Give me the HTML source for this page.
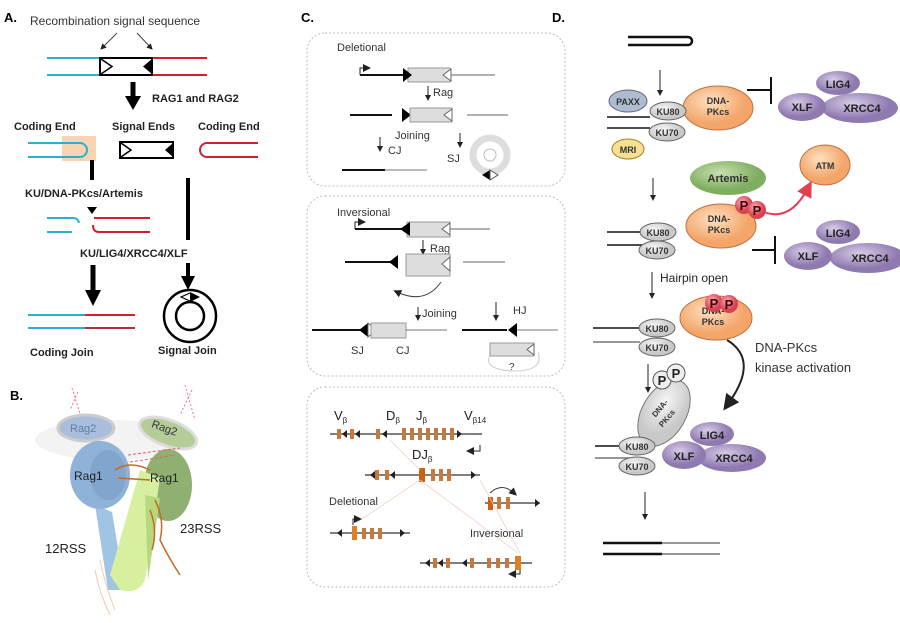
<!DOCTYPE html>
<html><head><meta charset="utf-8"><style>
html,body{margin:0;padding:0;background:#fff;}
svg{display:block;font-family:"Liberation Sans",Arial,sans-serif;}
</style></head><body>
<svg width="900" height="623" viewBox="0 0 900 623" xmlns="http://www.w3.org/2000/svg">
<defs>
<marker id="ah" markerWidth="6" markerHeight="6" refX="5" refY="3" orient="auto" markerUnits="userSpaceOnUse"><path d="M0,0 L6,3 L0,6 Z" fill="#222"/></marker>
<marker id="ah2" markerWidth="8" markerHeight="8" refX="4" refY="4" orient="auto"><path d="M0,0 L8,4 L0,8 Z" fill="#222"/></marker>
<marker id="ahr" markerWidth="8" markerHeight="8" refX="4" refY="4" orient="auto"><path d="M0,0 L8,4 L0,8 Z" fill="#e04050"/></marker>
<radialGradient id="og" cx="40%" cy="35%"><stop offset="0" stop-color="#fde0c0"/><stop offset="1" stop-color="#f3a56a"/></radialGradient>
<radialGradient id="pg" cx="40%" cy="35%"><stop offset="0" stop-color="#d8cce6"/><stop offset="1" stop-color="#8e79b0"/></radialGradient>
<radialGradient id="gg" cx="40%" cy="35%"><stop offset="0" stop-color="#c8e0b0"/><stop offset="1" stop-color="#7fae60"/></radialGradient>
<radialGradient id="kg" cx="40%" cy="35%"><stop offset="0" stop-color="#f6f6f6"/><stop offset="1" stop-color="#c8c8c8"/></radialGradient>
<radialGradient id="rg" cx="40%" cy="35%"><stop offset="0" stop-color="#f7b0b8"/><stop offset="1" stop-color="#d94050"/></radialGradient>
</defs>

<!-- ===== Panel A ===== -->
<text x="4" y="22" font-size="13" font-weight="bold">A.</text>
<text x="30" y="25" font-size="12" fill="#333">Recombination signal sequence</text>
<line x1="117" y1="33" x2="101" y2="49" stroke="#444" marker-end="url(#ah)"/>
<line x1="137" y1="33" x2="152" y2="49" stroke="#444" marker-end="url(#ah)"/>
<g stroke-width="2">
<line x1="47" y1="58" x2="100" y2="58" stroke="#2ab0d0"/><line x1="47" y1="75" x2="100" y2="75" stroke="#2ab0d0"/>
<line x1="152" y1="58" x2="207" y2="58" stroke="#d02030"/><line x1="152" y1="75" x2="207" y2="75" stroke="#d02030"/>
</g>
<rect x="100" y="58" width="52" height="17" fill="#fff" stroke="#000" stroke-width="2"/>
<path d="M101,59 L112,66.5 L101,74" fill="none" stroke="#000" stroke-width="1.5"/>
<path d="M152,59 L143,66.5 L152,74 Z" fill="#000"/>
<line x1="133" y1="82" x2="133" y2="98" stroke="#000" stroke-width="5"/>
<path d="M125,96 L141,96 L133,110 Z" fill="#000"/>
<text x="152" y="102" font-size="11" font-weight="bold" fill="#222">RAG1 and RAG2</text>
<text x="14" y="130" font-size="11" font-weight="bold" fill="#222">Coding End</text>
<text x="112" y="130" font-size="11" font-weight="bold" fill="#222">Signal Ends</text>
<text x="198" y="130" font-size="11" font-weight="bold" fill="#222">Coding End</text>
<rect x="62" y="136" width="34" height="25" fill="#f7c9a0" opacity="0.8"/>
<path d="M28,143 L80,143 A7,7 0 0 1 80,157 L28,157" fill="none" stroke="#2ab0d0" stroke-width="2"/>
<rect x="120" y="142" width="53" height="16" fill="#fff" stroke="#000" stroke-width="2"/>
<path d="M121,143 L131,150 L121,157" fill="none" stroke="#000" stroke-width="1.5"/>
<path d="M173,143 L165,150 L173,157 Z" fill="#000"/>
<path d="M258,143 L207,143 A7,7 0 0 0 207,157 L258,157" fill="none" stroke="#d02030" stroke-width="2"/>
<line x1="92" y1="160" x2="92" y2="180" stroke="#000" stroke-width="4"/>
<text x="25" y="197" font-size="11" font-weight="bold" fill="#222">KU/DNA-PKcs/Artemis</text>
<path d="M87,207 L97,207 L92,214 Z" fill="#000"/>
<path d="M47,218 L73,218 Q78,218 79,223" fill="none" stroke="#2ab0d0" stroke-width="2"/>
<line x1="47" y1="232" x2="72" y2="232" stroke="#2ab0d0" stroke-width="2"/>
<line x1="94" y1="218" x2="150" y2="218" stroke="#d02030" stroke-width="2"/>
<path d="M93,225 Q93,232 99,232 L150,232" fill="none" stroke="#d02030" stroke-width="2"/>
<line x1="188" y1="178" x2="188" y2="240" stroke="#000" stroke-width="4"/>
<text x="80" y="257" font-size="11" font-weight="bold" fill="#222">KU/LIG4/XRCC4/XLF</text>
<line x1="188" y1="263" x2="188" y2="278" stroke="#000" stroke-width="4"/>
<path d="M181,276 L195,276 L188,290 Z" fill="#000"/>
<line x1="93" y1="265" x2="93" y2="292" stroke="#000" stroke-width="5"/>
<path d="M85,290 L101,290 L93,306 Z" fill="#000"/>
<line x1="28" y1="315" x2="85" y2="315" stroke="#2ab0d0" stroke-width="2"/><line x1="85" y1="315" x2="135" y2="315" stroke="#d02030" stroke-width="2"/>
<line x1="28" y1="328" x2="85" y2="328" stroke="#2ab0d0" stroke-width="2"/><line x1="85" y1="328" x2="135" y2="328" stroke="#b03040" stroke-width="2"/>
<circle cx="190" cy="316" r="26" fill="none" stroke="#000" stroke-width="2.5"/>
<circle cx="190" cy="316" r="14" fill="none" stroke="#000" stroke-width="2.5"/>
<path d="M190,292 L200,297 L190,302 Z" fill="#000"/>
<path d="M190,293 L181,297 L190,301" fill="none" stroke="#000" stroke-width="1.2"/>
<text x="30" y="356" font-size="11" font-weight="bold" fill="#222">Coding Join</text>
<text x="158" y="354" font-size="11" font-weight="bold" fill="#222">Signal Join</text>

<!-- ===== Panel B ===== -->
<text x="10" y="400" font-size="13" font-weight="bold">B.</text>
<ellipse cx="110" cy="440" rx="75" ry="20" fill="#eee" opacity="0.7"/>
<path d="M72,388 L82,420 M78,392 L70,410 M185,385 L195,420 M192,390 L180,415" stroke="#f07090" stroke-dasharray="2,2" fill="none"/>
<ellipse cx="86" cy="428" rx="28" ry="13" fill="#a8bedc" stroke="#ccc" stroke-width="3"/>
<text x="70" y="432" font-size="11" fill="#6080a8">Rag2</text>
<ellipse cx="168" cy="433" rx="30" ry="13" transform="rotate(20 168 433)" fill="#b4cc98" stroke="#ddd" stroke-width="3"/>
<text x="150" y="432" font-size="11" fill="#333" transform="rotate(20 165 432)">Rag2</text>
<path d="M95,505 L112,512 L125,590 L108,590 Z" fill="#9fc4e4"/>
<ellipse cx="100" cy="475" rx="30" ry="34" fill="#8fb2d8"/>
<ellipse cx="108" cy="475" rx="18" ry="25" fill="#7aa0c8" opacity="0.7"/>
<text x="74" y="480" font-size="12" fill="#222">Rag1</text>
<ellipse cx="168" cy="485" rx="24" ry="36" fill="#8fb070"/>
<path d="M140,470 L160,478 L145,580 Q138,595 120,590 L110,575 Z" fill="#d7f0a0"/>
<path d="M145,495 L160,498 L148,580" fill="#b8d880"/>
<text x="150" y="482" font-size="12" fill="#222">Rag1</text>
<path d="M115,470 Q130,460 150,470 M118,478 L150,480 M155,500 Q165,520 160,540 Q170,560 180,575 M150,510 Q158,530 152,550" stroke="#c86a20" stroke-width="1.5" fill="none"/>
<path d="M128,455 L180,448 M130,462 L175,455" stroke="#e06060" stroke-dasharray="3,2" fill="none"/>
<path d="M100,560 Q105,585 115,610 M95,570 Q100,595 110,615" stroke="#f0a080" fill="none" opacity="0.6"/>
<text x="180" y="533" font-size="13" fill="#222">23RSS</text>
<text x="45" y="553" font-size="13" fill="#222">12RSS</text>

<!-- ===== Panel C ===== -->
<text x="301" y="22" font-size="13" font-weight="bold">C.</text>
<g fill="none" stroke="#bbb" stroke-dasharray="2,2">
<rect x="307" y="33" width="258" height="153" rx="18"/>
<rect x="307" y="196" width="258" height="180" rx="18"/>
<rect x="307" y="387" width="258" height="200" rx="18"/>
</g>
<text x="337" y="51" font-size="11" fill="#333">Deletional</text>
<path d="M360,75 L360,68 L367,68" stroke="#222" fill="none" marker-end="url(#ah2)"/>
<line x1="360" y1="75" x2="405" y2="75" stroke="#111" stroke-width="2"/>
<rect x="408" y="68" width="42" height="14" fill="#ddd" stroke="#999"/>
<path d="M403,68 L412,75 L403,82 Z" fill="#000"/>
<path d="M451,69 L443,75 L451,81 Z" fill="#fff" stroke="#666"/>
<line x1="451" y1="75" x2="495" y2="75" stroke="#666"/>
<line x1="428" y1="86" x2="428" y2="100" stroke="#222" marker-end="url(#ah)"/>
<text x="433" y="96" font-size="11" fill="#333">Rag</text>
<line x1="350" y1="115" x2="392" y2="115" stroke="#111" stroke-width="2"/>
<path d="M402,108 L411,115 L402,122 Z" fill="#000"/>
<rect x="410" y="108" width="42" height="14" fill="#ddd" stroke="#999"/>
<path d="M452,109 L444,115 L452,121 Z" fill="#fff" stroke="#666"/>
<line x1="467" y1="115" x2="508" y2="115" stroke="#666"/>
<text x="395" y="139" font-size="11" fill="#333">Joining</text>
<line x1="380" y1="137" x2="380" y2="151" stroke="#222" marker-end="url(#ah)"/>
<line x1="460" y1="133" x2="460" y2="147" stroke="#222" marker-end="url(#ah)"/>
<text x="388" y="154" font-size="11" fill="#333">CJ</text>
<text x="447" y="162" font-size="11" fill="#333">SJ</text>
<circle cx="490" cy="155" r="17" fill="none" stroke="#ddd" stroke-width="7"/>
<circle cx="490" cy="155" r="6" fill="#fff" stroke="#bbb"/>
<path d="M482,175 L490,170 L490,180 Z" fill="#000"/><path d="M498,175 L490,170 L490,180 Z" fill="#fff" stroke="#555"/>
<line x1="342" y1="170" x2="385" y2="170" stroke="#111" stroke-width="2"/>
<line x1="385" y1="170" x2="427" y2="170" stroke="#777"/>

<text x="337" y="216" font-size="11" fill="#333">Inversional</text>
<path d="M355,229 L355,222 L362,222" stroke="#222" fill="none" marker-end="url(#ah2)"/>
<line x1="355" y1="229" x2="402" y2="229" stroke="#111" stroke-width="2"/>
<rect x="407" y="222" width="43" height="15" fill="#ddd" stroke="#999"/>
<path d="M410,222 L400,229 L410,236 Z" fill="#000"/>
<path d="M450,223 L442,229 L450,235 Z" fill="#fff" stroke="#666"/>
<line x1="450" y1="229" x2="490" y2="229" stroke="#666"/>
<line x1="423" y1="240" x2="423" y2="254" stroke="#222" marker-end="url(#ah)"/>
<text x="430" y="252" font-size="11" fill="#333">Rag</text>
<line x1="345" y1="262" x2="393" y2="262" stroke="#111" stroke-width="2"/>
<path d="M398,255 L389,262 L398,269 Z" fill="#000"/>
<rect x="406" y="254" width="44" height="22" fill="#ddd" stroke="#999"/>
<path d="M450,257 L442,264 L450,271 Z" fill="#fff" stroke="#666"/>
<line x1="463" y1="262" x2="505" y2="262" stroke="#666"/>
<path d="M441,282 Q425,305 397,292" fill="none" stroke="#444" marker-end="url(#ah2)"/>
<line x1="418" y1="307" x2="418" y2="320" stroke="#222" marker-end="url(#ah)"/>
<text x="422" y="317" font-size="11" fill="#333">Joining</text>
<line x1="496" y1="302" x2="496" y2="320" stroke="#222" marker-end="url(#ah)"/>
<text x="513" y="314" font-size="11" fill="#333">HJ</text>
<line x1="312" y1="330" x2="362" y2="330" stroke="#111" stroke-width="2"/>
<path d="M368,323 L359,330 L368,337 Z" fill="#000"/>
<path d="M368,323 L376,330 L368,337 Z" fill="#fff" stroke="#666"/>
<rect x="371" y="323" width="35" height="15" fill="#ddd" stroke="#999"/>
<line x1="406" y1="330" x2="447" y2="330" stroke="#777"/>
<text x="351" y="354" font-size="11" fill="#333">SJ</text>
<text x="396" y="354" font-size="11" fill="#333">CJ</text>
<line x1="462" y1="330" x2="507" y2="330" stroke="#111" stroke-width="2"/>
<path d="M517,323 L508,330 L517,337 Z" fill="#000"/>
<line x1="517" y1="330" x2="558" y2="330" stroke="#777"/>
<path d="M492,352 Q480,368 510,371 Q545,372 538,352" fill="none" stroke="#ccc"/>
<rect x="490" y="343" width="44" height="13" fill="#ddd" stroke="#999"/>
<path d="M534,344 L527,349.5 L534,355 Z" fill="#fff" stroke="#666"/>
<text x="509" y="370" font-size="10" fill="#333">?</text>

<text x="334" y="420" font-size="13" fill="#222">V<tspan font-size="8" dy="3">β</tspan></text>
<text x="386" y="420" font-size="13" fill="#222">D<tspan font-size="8" dy="3">β</tspan></text>
<text x="416" y="420" font-size="13" fill="#222">J<tspan font-size="8" dy="3">β</tspan></text>
<text x="464" y="420" font-size="13" fill="#222">V<tspan font-size="8" dy="3">β14</tspan></text>
<g stroke="#333" stroke-width="1.2">
<line x1="330" y1="434" x2="482" y2="434"/>
<line x1="365" y1="475" x2="480" y2="475"/>
<line x1="330" y1="533" x2="410" y2="533"/>
<line x1="420" y1="563" x2="532" y2="563"/>
<line x1="485" y1="503" x2="540" y2="503"/>
</g>
<g fill="#c87838">
<rect x="337" y="429" width="4" height="10"/><rect x="350" y="429" width="4" height="10"/><rect x="376" y="429" width="4" height="10"/>
<rect x="402" y="428" width="4" height="12"/><rect x="410" y="428" width="4" height="12"/><rect x="418" y="428" width="4" height="12"/><rect x="426" y="428" width="4" height="12"/><rect x="434" y="428" width="4" height="12"/><rect x="442" y="428" width="4" height="12"/><rect x="450" y="428" width="4" height="12"/>
<rect x="375" y="470" width="4" height="10"/><rect x="385" y="470" width="4" height="10"/>
<rect x="419" y="468" width="6" height="14" fill="#d06010"/><rect x="431" y="469" width="4" height="12"/><rect x="439" y="469" width="4" height="12"/><rect x="447" y="469" width="4" height="12"/>
<rect x="352" y="526" width="5" height="14" fill="#e08020"/><rect x="362" y="528" width="4" height="11"/><rect x="370" y="528" width="4" height="11"/><rect x="378" y="528" width="4" height="11"/>
<rect x="433" y="558" width="4" height="10"/><rect x="446" y="558" width="4" height="10"/><rect x="470" y="558" width="4" height="10"/><rect x="487" y="558" width="4" height="10"/><rect x="496" y="558" width="4" height="10"/><rect x="505" y="558" width="4" height="10"/><rect x="515" y="556" width="6" height="14" fill="#e08020"/>
<rect x="488" y="497" width="5" height="13" fill="#d06010"/><rect x="497" y="497" width="4" height="12"/><rect x="506" y="497" width="4" height="12"/>
</g>
<g fill="#222">
<path d="M342,434 l5,-4 v8z"/><path d="M355,434 l5,-4 v8z"/><path d="M382,434 l5,-4 v8z"/><path d="M462,434 l-5,-4 v8z"/>
<path d="M370,475 l5,-4 v8z"/><path d="M390,475 l5,-4 v8z"/><path d="M476,475 l-5,-4 v8z"/>
<path d="M337,533 l5,-4 v8z"/><path d="M405,533 l-5,-4 v8z"/>
<path d="M425,563 l5,-4 v8z"/><path d="M438,563 l5,-4 v8z"/><path d="M462,563 l5,-4 v8z"/>
<path d="M540,503 l-5,-4 v8z"/>
</g>
<text x="412" y="459" font-size="13" fill="#222">DJ<tspan font-size="8" dy="3">β</tspan></text>
<path d="M480,445 L480,451 L470,451" fill="none" stroke="#222" marker-end="url(#ah2)"/>
<path d="M490,493 Q502,482 514,493" fill="none" stroke="#333" marker-end="url(#ah2)"/>
<g stroke="#f0d0c0" stroke-width="1" opacity="0.8">
<line x1="390" y1="440" x2="420" y2="470"/><line x1="420" y1="480" x2="356" y2="523"/><line x1="420" y1="480" x2="518" y2="553"/><line x1="480" y1="480" x2="520" y2="553"/>
</g>
<text x="329" y="505" font-size="11" fill="#333">Deletional</text>
<path d="M353,525 L353,519 L358,519" fill="none" stroke="#222" marker-end="url(#ah2)"/>
<text x="470" y="537" font-size="11" fill="#333">Inversional</text>
<path d="M520,570 L520,574 L512,574" fill="none" stroke="#222" marker-end="url(#ah2)"/>

<!-- ===== Panel D ===== -->
<text x="552" y="22" font-size="13" font-weight="bold">D.</text>
<path d="M628,37 L688,37 A4,4 0 0 1 688,45 L628,45" fill="none" stroke="#111" stroke-width="2.5"/>
<line x1="660" y1="70" x2="660" y2="95" stroke="#222" marker-end="url(#ah)"/>
<!-- complex 1 -->
<line x1="607" y1="117" x2="650" y2="117" stroke="#111" stroke-width="1.5"/>
<line x1="607" y1="128" x2="650" y2="128" stroke="#111" stroke-width="1.5"/>
<ellipse cx="718" cy="108" rx="35" ry="22" fill="url(#og)" stroke="#c07040"/>
<text x="718" y="104" font-size="9" font-weight="bold" text-anchor="middle" fill="#333">DNA-</text>
<text x="718" y="115" font-size="9" font-weight="bold" text-anchor="middle" fill="#333">PKcs</text>
<ellipse cx="628" cy="101" rx="19" ry="11" fill="#aebcd0" stroke="#667"/>
<text x="628" y="105" font-size="9" font-weight="bold" text-anchor="middle" fill="#333">PAXX</text>
<ellipse cx="668" cy="111" rx="18" ry="9" fill="url(#kg)" stroke="#666"/>
<text x="668" y="115" font-size="9" font-weight="bold" text-anchor="middle" fill="#333">KU80</text>
<ellipse cx="667" cy="132" rx="18" ry="9" fill="url(#kg)" stroke="#666"/>
<text x="667" y="136" font-size="9" font-weight="bold" text-anchor="middle" fill="#333">KU70</text>
<ellipse cx="628" cy="149" rx="16" ry="10" fill="#f7e090" stroke="#a08030"/>
<text x="628" y="153" font-size="9" font-weight="bold" text-anchor="middle" fill="#333">MRI</text>
<line x1="747" y1="90" x2="770" y2="90" stroke="#111" stroke-width="2"/>
<line x1="771" y1="77" x2="771" y2="104" stroke="#111" stroke-width="2"/>
<ellipse cx="838" cy="83" rx="22" ry="12" fill="url(#pg)"/>
<ellipse cx="860" cy="108" rx="38" ry="15" fill="url(#pg)"/>
<ellipse cx="802" cy="107" rx="24" ry="14" fill="url(#pg)"/>
<text x="838" y="88" font-size="11" font-weight="bold" text-anchor="middle" fill="#222">LIG4</text>
<text x="802" y="111" font-size="11" font-weight="bold" text-anchor="middle" fill="#222">XLF</text>
<text x="862" y="112" font-size="11" font-weight="bold" text-anchor="middle" fill="#222">XRCC4</text>
<line x1="653" y1="178" x2="653" y2="200" stroke="#222" marker-end="url(#ah)"/>
<!-- complex 2 -->
<ellipse cx="728" cy="178" rx="38" ry="17" fill="url(#gg)"/>
<text x="728" y="182" font-size="11" font-weight="bold" text-anchor="middle" fill="#333">Artemis</text>
<ellipse cx="825" cy="165" rx="25" ry="20" fill="url(#og)" stroke="#c07040"/>
<text x="825" y="169" font-size="9" font-weight="bold" text-anchor="middle" fill="#333">ATM</text>
<line x1="607" y1="232" x2="650" y2="232" stroke="#111" stroke-width="1.5"/>
<line x1="607" y1="245" x2="650" y2="245" stroke="#111" stroke-width="1.5"/>
<ellipse cx="721" cy="226" rx="35" ry="22" fill="url(#og)" stroke="#c07040"/>
<text x="719" y="222" font-size="9" font-weight="bold" text-anchor="middle" fill="#333">DNA-</text>
<text x="719" y="233" font-size="9" font-weight="bold" text-anchor="middle" fill="#333">PKcs</text>
<ellipse cx="658" cy="232" rx="18" ry="9" fill="url(#kg)" stroke="#666"/>
<text x="658" y="236" font-size="9" font-weight="bold" text-anchor="middle" fill="#333">KU80</text>
<ellipse cx="657" cy="250" rx="18" ry="9" fill="url(#kg)" stroke="#666"/>
<text x="657" y="254" font-size="9" font-weight="bold" text-anchor="middle" fill="#333">KU70</text>
<path d="M764,212 Q790,222 808,188" fill="none" stroke="#e04050" stroke-width="2" marker-end="url(#ahr)"/>
<circle cx="744" cy="205" r="9" fill="url(#rg)"/><circle cx="757" cy="210" r="9" fill="url(#rg)"/>
<text x="744" y="210" font-size="13" font-weight="bold" text-anchor="middle" fill="#400">P</text>
<text x="757" y="215" font-size="13" font-weight="bold" text-anchor="middle" fill="#400">P</text>
<line x1="752" y1="250" x2="774" y2="250" stroke="#111" stroke-width="2"/>
<line x1="775" y1="236" x2="775" y2="264" stroke="#111" stroke-width="2"/>
<ellipse cx="838" cy="232" rx="22" ry="12" fill="url(#pg)"/>
<ellipse cx="868" cy="258" rx="38" ry="15" fill="url(#pg)"/>
<ellipse cx="808" cy="256" rx="24" ry="14" fill="url(#pg)"/>
<text x="838" y="237" font-size="11" font-weight="bold" text-anchor="middle" fill="#222">LIG4</text>
<text x="808" y="260" font-size="11" font-weight="bold" text-anchor="middle" fill="#222">XLF</text>
<text x="870" y="262" font-size="11" font-weight="bold" text-anchor="middle" fill="#222">XRCC4</text>
<line x1="652" y1="272" x2="652" y2="298" stroke="#222" marker-end="url(#ah)"/>
<text x="660" y="282" font-size="12" fill="#222">Hairpin open</text>
<!-- complex 3 -->
<line x1="593" y1="328" x2="640" y2="328" stroke="#111" stroke-width="1.5"/>
<line x1="593" y1="342" x2="640" y2="342" stroke="#777" stroke-width="1.5"/>
<ellipse cx="716" cy="318" rx="36" ry="22" fill="url(#og)" stroke="#c07040"/>
<text x="713" y="314" font-size="9" font-weight="bold" text-anchor="middle" fill="#333">DNA-</text>
<text x="713" y="325" font-size="9" font-weight="bold" text-anchor="middle" fill="#333">PKcs</text>
<circle cx="714" cy="303" r="9" fill="url(#rg)"/><circle cx="729" cy="304" r="9" fill="url(#rg)"/>
<text x="714" y="308" font-size="13" font-weight="bold" text-anchor="middle" fill="#400">P</text>
<text x="729" y="309" font-size="13" font-weight="bold" text-anchor="middle" fill="#400">P</text>
<ellipse cx="657" cy="328" rx="18" ry="9" fill="url(#kg)" stroke="#666"/>
<text x="657" y="332" font-size="9" font-weight="bold" text-anchor="middle" fill="#333">KU80</text>
<ellipse cx="657" cy="347" rx="18" ry="9" fill="url(#kg)" stroke="#666"/>
<text x="657" y="351" font-size="9" font-weight="bold" text-anchor="middle" fill="#333">KU70</text>
<path d="M727,340 Q760,360 728,404" fill="none" stroke="#222" stroke-width="2" marker-end="url(#ah2)"/>
<text x="755" y="352" font-size="13" fill="#333">DNA-PKcs</text>
<text x="755" y="372" font-size="13" fill="#333">kinase activation</text>
<line x1="648" y1="364" x2="648" y2="392" stroke="#222" marker-end="url(#ah)"/>
<!-- complex 4 -->
<line x1="595" y1="446" x2="630" y2="446" stroke="#111" stroke-width="1.5"/>
<line x1="595" y1="458" x2="630" y2="458" stroke="#777" stroke-width="1.5"/>
<ellipse cx="664" cy="413" rx="22" ry="36" transform="rotate(30 664 413)" fill="url(#kg)" stroke="#777"/>
<text x="662" y="410" font-size="8" font-weight="bold" text-anchor="middle" fill="#333" transform="rotate(-50 662 410)">DNA-</text>
<text x="669" y="420" font-size="8" font-weight="bold" text-anchor="middle" fill="#333" transform="rotate(-50 669 420)">PKcs</text>
<circle cx="662" cy="380" r="9" fill="#eee" stroke="#555"/><circle cx="676" cy="373" r="9" fill="#eee" stroke="#555"/>
<text x="662" y="385" font-size="13" font-weight="bold" text-anchor="middle" fill="#222">P</text>
<text x="676" y="378" font-size="13" font-weight="bold" text-anchor="middle" fill="#222">P</text>
<ellipse cx="712" cy="434" rx="22" ry="12" fill="url(#pg)"/>
<ellipse cx="732" cy="458" rx="34" ry="14" fill="url(#pg)"/>
<ellipse cx="684" cy="455" rx="22" ry="14" fill="url(#pg)"/>
<text x="712" y="439" font-size="11" font-weight="bold" text-anchor="middle" fill="#222">LIG4</text>
<text x="684" y="460" font-size="11" font-weight="bold" text-anchor="middle" fill="#222">XLF</text>
<text x="734" y="462" font-size="11" font-weight="bold" text-anchor="middle" fill="#222">XRCC4</text>
<ellipse cx="637" cy="446" rx="18" ry="9" fill="url(#kg)" stroke="#666"/>
<text x="637" y="450" font-size="9" font-weight="bold" text-anchor="middle" fill="#333">KU80</text>
<ellipse cx="637" cy="466" rx="18" ry="9" fill="url(#kg)" stroke="#666"/>
<text x="637" y="470" font-size="9" font-weight="bold" text-anchor="middle" fill="#333">KU70</text>
<line x1="645" y1="492" x2="645" y2="519" stroke="#222" marker-end="url(#ah)"/>
<line x1="603" y1="543" x2="662" y2="543" stroke="#111" stroke-width="2.5"/>
<line x1="662" y1="543" x2="720" y2="543" stroke="#777" stroke-width="1.5"/>
<line x1="603" y1="554" x2="662" y2="554" stroke="#111" stroke-width="2.5"/>
<line x1="662" y1="554" x2="720" y2="554" stroke="#777" stroke-width="1.5"/>
</svg>
</body></html>
